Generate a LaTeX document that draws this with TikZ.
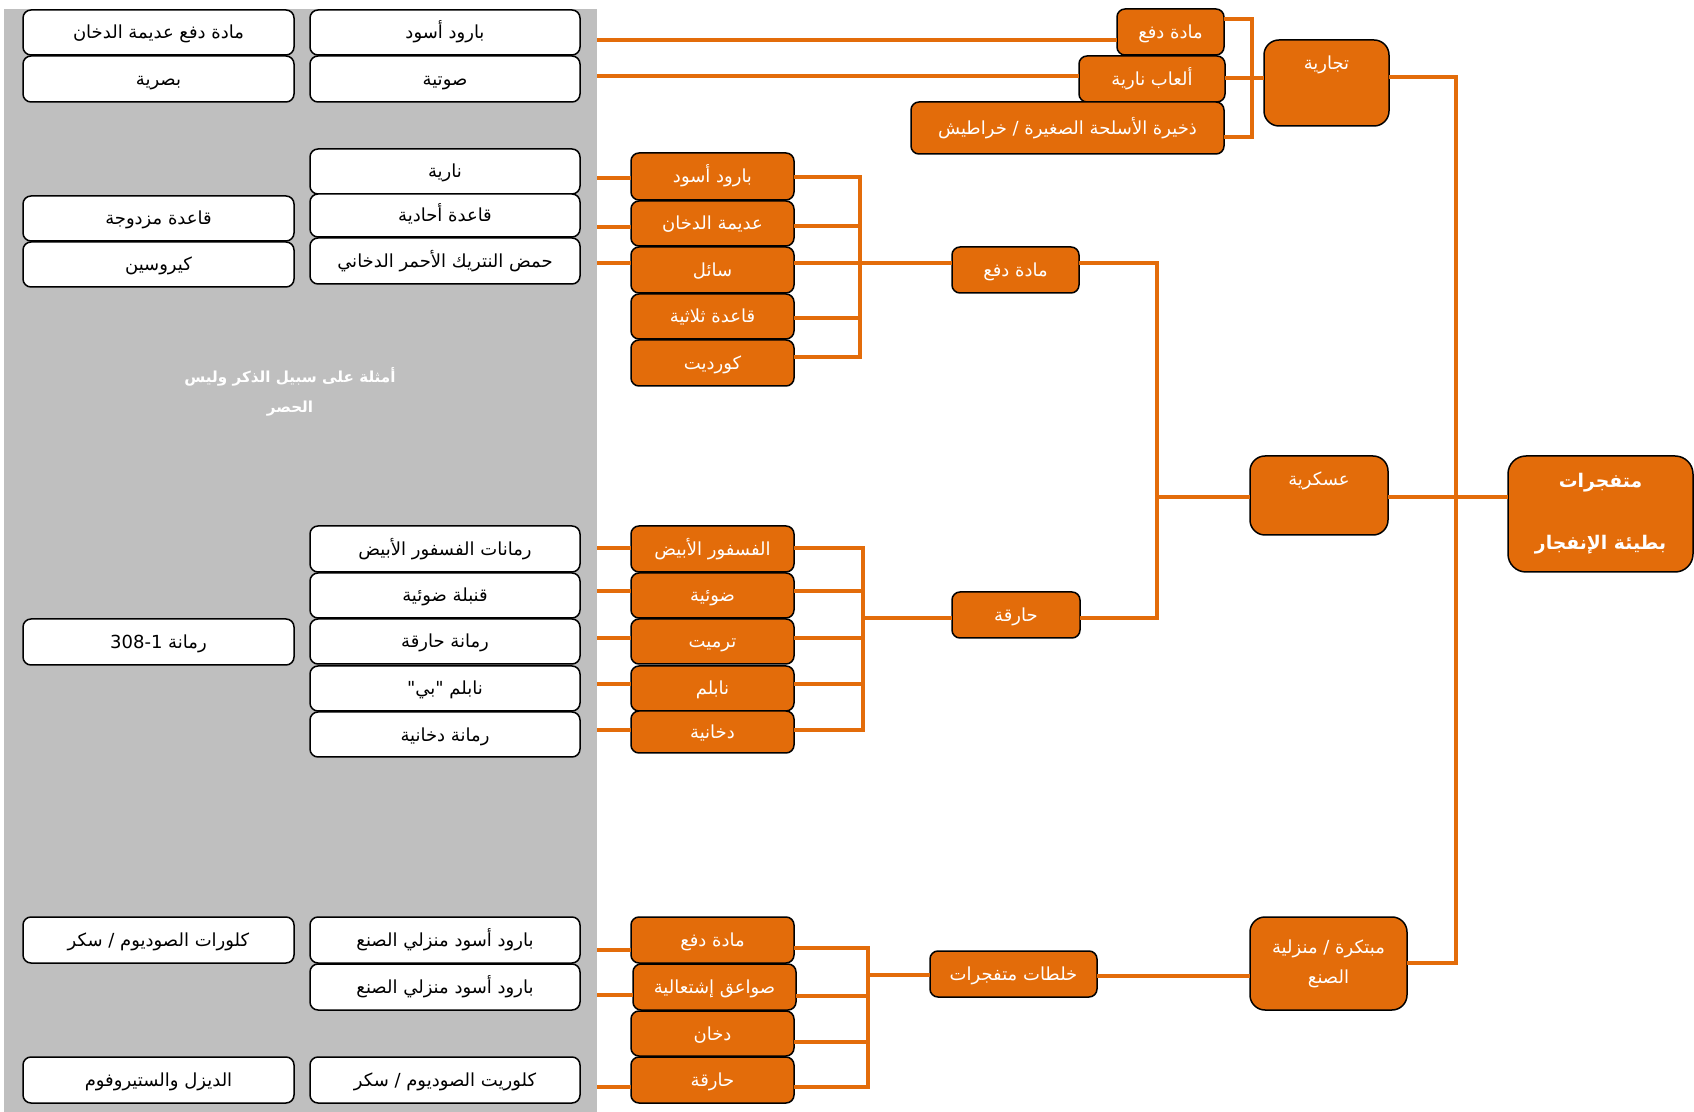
\documentclass[tikz,border=0pt]{standalone}
\usepackage{fontspec}
\TeXXeTstate=1
\newfontfamily\arabicfont[Script=Arabic]{DejaVu Sans}
\definecolor{orng}{RGB}{227,108,10}
\definecolor{panelgray}{RGB}{191,191,191}
\newcommand\ar[1]{\beginR#1\endR}
\newcommand\bx[7]{\node[#6, minimum width={(#4-#2)*0.5pt}, minimum height={(#5-#3)*0.5pt}] (#1) at ({(#2+#4)/2},{(#3+#5)/2}) {#7};}
\begin{document}
\begin{tikzpicture}[x=0.5pt,y=-0.5pt,
  base/.style={inner sep=0pt, outer sep=0pt, draw=black, line width=0.75pt, rounded corners=4pt, font=\arabicfont\fontsize{9}{11}\selectfont},
  lbl/.style={text height=7.5pt, text depth=1pt},
  wbox/.style={base, lbl, fill=white, text=black},
  obox/.style={base, lbl, fill=orng, text=white},
  cbox/.style={base, fill=orng, text=white, rounded corners=7.5pt},
  oline/.style={draw=orng, line width=2.25pt, line join=miter},
]
\useasboundingbox (0,0) rectangle (1694,1112);
% grey panel
\node[fill=panelgray, inner sep=0pt, outer sep=0pt, minimum width={593*0.5pt}, minimum height={1103*0.5pt}] (panel) at (300.5,560.5) {};
\node[font=\arabicfont\bfseries\fontsize{7.6}{15}\selectfont, text=white, align=center] (cap) at (290,392) {\ar{أمثلة على سبيل الذكر وليس}\\\ar{الحصر}};
% white example boxes
\bx{w1r}{310}{10}{580}{55}{wbox}{\ar{بارود أسود}}
\bx{w1l}{23}{10}{294}{55}{wbox}{\ar{مادة دفع عديمة الدخان}}
\bx{w2r}{310}{56}{580}{102}{wbox}{\ar{صوتية}}
\bx{w2l}{23}{56}{294}{102}{wbox}{\ar{بصرية}}
\bx{w3r}{310}{149}{580}{194}{wbox}{\ar{نارية}}
\bx{w4r}{310}{194}{580}{237}{wbox}{\ar{قاعدة أحادية}}
\bx{w4l}{23}{196}{294}{241}{wbox}{\ar{قاعدة مزدوجة}}
\bx{w5r}{310}{238}{580}{284}{wbox}{\ar{حمض النتريك الأحمر الدخاني}}
\bx{w5l}{23}{242}{294}{287}{wbox}{\ar{كيروسين}}
\bx{w6r}{310}{526}{580}{572}{wbox}{\ar{رمانات الفسفور الأبيض}}
\bx{w7r}{310}{573}{580}{618}{wbox}{\ar{قنبلة ضوئية}}
\bx{w8r}{310}{619}{580}{664}{wbox}{\ar{رمانة حارقة}}
\bx{w8l}{23}{619}{294}{665}{wbox}{\ar{رمانة \beginL 308-1\endL{}}}
\bx{w9r}{310}{666}{580}{711}{wbox}{\ar{نابلم "بي"}}
\bx{w10r}{310}{712}{580}{757}{wbox}{\ar{رمانة دخانية}}
\bx{w11r}{310}{917}{580}{963}{wbox}{\ar{بارود أسود منزلي الصنع}}
\bx{w11l}{23}{917}{294}{963}{wbox}{\ar{كلورات الصوديوم / سكر}}
\bx{w12r}{310}{964}{580}{1010}{wbox}{\ar{بارود أسود منزلي الصنع}}
\bx{w13r}{310}{1057}{580}{1103}{wbox}{\ar{كلوريت الصوديوم / سكر}}
\bx{w13l}{23}{1057}{294}{1103}{wbox}{\ar{الديزل والستيروفوم}}
% orange: propellant group
\bx{o1}{631}{153}{794}{200}{obox}{\ar{بارود أسود}}
\bx{o2}{631}{201}{794}{246}{obox}{\ar{عديمة الدخان}}
\bx{o3}{631}{247}{794}{293}{obox}{\ar{سائل}}
\bx{o4}{631}{294}{794}{339}{obox}{\ar{قاعدة ثلاثية}}
\bx{o5}{631}{340}{794}{386}{obox}{\ar{كورديت}}
% orange: incendiary group
\bx{i1}{631}{526}{794}{572}{obox}{\ar{الفسفور الأبيض}}
\bx{i2}{631}{573}{794}{618}{obox}{\ar{ضوئية}}
\bx{i3}{631}{619}{794}{664}{obox}{\ar{ترميت}}
\bx{i4}{631}{666}{794}{711}{obox}{\ar{نابلم}}
\bx{i5}{631}{711}{794}{753}{obox}{\ar{دخانية}}
% orange: mixtures group
\bx{m1}{631}{917}{794}{963}{obox}{\ar{مادة دفع}}
\bx{m2}{633}{964}{796}{1010}{obox}{\ar{صواعق إشتعالية}}
\bx{m3}{631}{1011}{794}{1056}{obox}{\ar{دخان}}
\bx{m4}{631}{1057}{794}{1103}{obox}{\ar{حارقة}}
% mid level
\bx{p}{952}{247}{1079}{293}{obox}{\ar{مادة دفع}}
\bx{h}{952}{592}{1080}{638}{obox}{\ar{حارقة}}
\bx{x}{930}{951}{1097}{997}{obox}{\ar{خلطات متفجرات}}
% top commercial group
\bx{t1}{1117}{9}{1224}{55}{obox}{\ar{مادة دفع}}
\bx{t2}{1079}{56}{1225}{102}{obox}{\ar{ألعاب نارية}}
\bx{t3}{911}{102}{1224}{154}{obox}{\ar{ذخيرة الأسلحة الصغيرة / خراطيش}}
% categories
\bx{c1}{1264}{40}{1389}{126}{cbox, text height=15pt, text depth=28pt}{\ar{تجارية}}
\bx{c2}{1250}{456}{1388}{535}{cbox, text height=15pt, text depth=24.5pt}{\ar{عسكرية}}
\bx{c3}{1250}{917}{1407}{1010}{cbox, align=center, font=\arabicfont\fontsize{9}{15}\selectfont}{\ar{مبتكرة / منزلية}\\\ar{الصنع}}
\bx{root}{1508}{456}{1693}{572}{cbox, rounded corners=9pt, align=center, font=\arabicfont\bfseries\fontsize{9.4}{31}\selectfont}{\ar{متفجرات}\\\ar{بطيئة الإنفجار}}
% connector x positions
\coordinate (bt) at (1252,0);
\coordinate (vr) at (1456,0);
\coordinate (vm) at (1157,0);
\coordinate (bu) at (860,0);
\coordinate (bi) at (863,0);
\coordinate (bb) at (868,0);
% top connectors
\draw[oline] (panel.east|-0,40) -- (t1.west|-0,40);
\draw[oline] (panel.east|-0,76) -- (t2.west|-0,76);
\draw[oline] (t1.east|-0,19) -- (bt|-0,19) -- (bt|-0,137) -- (t3.east|-0,137);
\draw[oline] (t2.east|-0,78) -- (c1.west|-0,78);
% main spine
\draw[oline] (c1.east|-0,77) -- (vr|-0,77) -- (vr|-0,963) -- (c3.east|-0,963);
\draw[oline] (c2.east|-0,497) -- (vr|-0,497);
\draw[oline] (vr|-0,497) -- (root.west|-0,497);
% military
\draw[oline] (p.east|-0,263) -- (vm|-0,263) -- (vm|-0,618) -- (h.east|-0,618);
\draw[oline] (vm|-0,497) -- (c2.west|-0,497);
% propellant bracket
\draw[oline] (o1.east|-0,177) -- (bu|-0,177) -- (bu|-0,357) -- (o5.east|-0,357);
\draw[oline] (o2.east|-0,226) -- (bu|-0,226);
\draw[oline] (o3.east|-0,263) -- (bu|-0,263);
\draw[oline] (o4.east|-0,318) -- (bu|-0,318);
\draw[oline] (bu|-0,263) -- (p.west|-0,263);
% incendiary bracket
\draw[oline] (i1.east|-0,548) -- (bi|-0,548) -- (bi|-0,730) -- (i5.east|-0,730);
\draw[oline] (i2.east|-0,591) -- (bi|-0,591);
\draw[oline] (i3.east|-0,638) -- (bi|-0,638);
\draw[oline] (i4.east|-0,684) -- (bi|-0,684);
\draw[oline] (bi|-0,618) -- (h.west|-0,618);
% mixtures bracket
\draw[oline] (m1.east|-0,948) -- (bb|-0,948) -- (bb|-0,1087) -- (m4.east|-0,1087);
\draw[oline] (m2.east|-0,996) -- (bb|-0,996);
\draw[oline] (m3.east|-0,1042) -- (bb|-0,1042);
\draw[oline] (bb|-0,975) -- (x.west|-0,975);
\draw[oline] (x.east|-0,976) -- (c3.west|-0,976);
% stubs from the example panel
\draw[oline] (panel.east|-0,178) -- (o1.west|-0,178);
\draw[oline] (panel.east|-0,227) -- (o2.west|-0,227);
\draw[oline] (panel.east|-0,263) -- (o3.west|-0,263);
\draw[oline] (panel.east|-0,548) -- (i1.west|-0,548);
\draw[oline] (panel.east|-0,591) -- (i2.west|-0,591);
\draw[oline] (panel.east|-0,638) -- (i3.west|-0,638);
\draw[oline] (panel.east|-0,684) -- (i4.west|-0,684);
\draw[oline] (panel.east|-0,730) -- (i5.west|-0,730);
\draw[oline] (panel.east|-0,950) -- (m1.west|-0,950);
\draw[oline] (panel.east|-0,995) -- (m2.west|-0,995);
\draw[oline] (panel.east|-0,1087) -- (m4.west|-0,1087);
\end{tikzpicture}
\end{document}
